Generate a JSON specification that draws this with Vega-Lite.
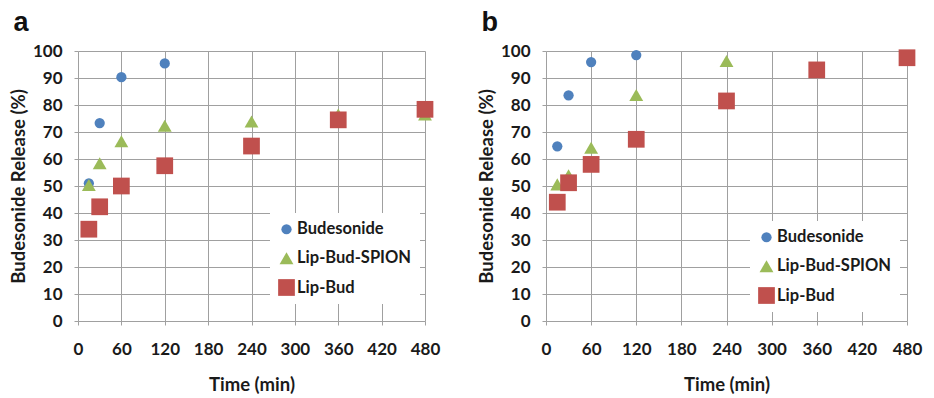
{
  "$schema": "https://vega.github.io/schema/vega-lite/v6.json",
  "background": "white",
  "padding": {"left": 9, "top": 9, "right": 5, "bottom": 5},
  "spacing": 37,
  "datasets": {
    "release": [
      {"panel": "a", "series": "Budesonide", "time": 15, "release": 51},
      {"panel": "a", "series": "Budesonide", "time": 30, "release": 73.3},
      {"panel": "a", "series": "Budesonide", "time": 60, "release": 90.3},
      {"panel": "a", "series": "Budesonide", "time": 120, "release": 95.4},
      {"panel": "a", "series": "Lip-Bud-SPION", "time": 15, "release": 50.4},
      {"panel": "a", "series": "Lip-Bud-SPION", "time": 30, "release": 58.4},
      {"panel": "a", "series": "Lip-Bud-SPION", "time": 60, "release": 66.6},
      {"panel": "a", "series": "Lip-Bud-SPION", "time": 120, "release": 72.3},
      {"panel": "a", "series": "Lip-Bud-SPION", "time": 240, "release": 73.9},
      {"panel": "a", "series": "Lip-Bud-SPION", "time": 360, "release": 76.5},
      {"panel": "a", "series": "Lip-Bud-SPION", "time": 480, "release": 76.5},
      {"panel": "a", "series": "Lip-Bud", "time": 15, "release": 34},
      {"panel": "a", "series": "Lip-Bud", "time": 30, "release": 42.3},
      {"panel": "a", "series": "Lip-Bud", "time": 60, "release": 50},
      {"panel": "a", "series": "Lip-Bud", "time": 120, "release": 57.5},
      {"panel": "a", "series": "Lip-Bud", "time": 240, "release": 64.8},
      {"panel": "a", "series": "Lip-Bud", "time": 360, "release": 74.5},
      {"panel": "a", "series": "Lip-Bud", "time": 480, "release": 78.4},
      {"panel": "b", "series": "Budesonide", "time": 15, "release": 64.7},
      {"panel": "b", "series": "Budesonide", "time": 30, "release": 83.6},
      {"panel": "b", "series": "Budesonide", "time": 60, "release": 95.9},
      {"panel": "b", "series": "Budesonide", "time": 120, "release": 98.5},
      {"panel": "b", "series": "Lip-Bud-SPION", "time": 15, "release": 50.6},
      {"panel": "b", "series": "Lip-Bud-SPION", "time": 30, "release": 54},
      {"panel": "b", "series": "Lip-Bud-SPION", "time": 60, "release": 64.2},
      {"panel": "b", "series": "Lip-Bud-SPION", "time": 120, "release": 83.7},
      {"panel": "b", "series": "Lip-Bud-SPION", "time": 240, "release": 96.3},
      {"panel": "b", "series": "Lip-Bud", "time": 15, "release": 44},
      {"panel": "b", "series": "Lip-Bud", "time": 30, "release": 51.2},
      {"panel": "b", "series": "Lip-Bud", "time": 60, "release": 58},
      {"panel": "b", "series": "Lip-Bud", "time": 120, "release": 67.3},
      {"panel": "b", "series": "Lip-Bud", "time": 240, "release": 81.5},
      {"panel": "b", "series": "Lip-Bud", "time": 360, "release": 93},
      {"panel": "b", "series": "Lip-Bud", "time": 480, "release": 97.5}
    ]
  },
  "hconcat": [
    {
      "width": 347,
      "height": 270,
      "title": {"text": "a", "anchor": "start", "frame": "bounds", "fontSize": 27, "font": "Liberation Sans", "fontWeight": "bold", "offset": 5, "dx": 4},
      "data": {"name": "release"},
      "transform": [{"filter": "datum.panel === 'a'"}],
      "mark": {"type": "point", "filled": true, "opacity": 1},
      "encoding": {
        "x": {"field": "time", "type": "quantitative", "title": "Time (min)",
              "scale": {"domain": [0, 480], "nice": false},
              "axis": {"values": [0, 60, 120, 180, 240, 300, 360, 420, 480]}},
        "y": {"field": "release", "type": "quantitative", "title": "Budesonide Release (%)",
              "scale": {"domain": [0, 100], "nice": false},
              "axis": {"values": [0, 10, 20, 30, 40, 50, 60, 70, 80, 90, 100]}},
        "color": {"field": "series", "type": "nominal",
                  "scale": {"domain": ["Budesonide", "Lip-Bud-SPION", "Lip-Bud"], "range": ["#4F81BD", "#9BBB59", "#C0504D"]},
                  "legend": {"title": null, "orient": "none", "legendX": 192, "legendY": 162}},
        "shape": {"field": "series", "type": "nominal",
                  "scale": {"domain": ["Budesonide", "Lip-Bud-SPION", "Lip-Bud"], "range": ["circle", "triangle-up", "square"]},
                  "legend": {"title": null, "orient": "none", "legendX": 192, "legendY": 162}},
        "size": {"field": "series", "type": "nominal",
                 "scale": {"domain": ["Budesonide", "Lip-Bud-SPION", "Lip-Bud"], "range": [105, 280, 165]},
                 "legend": null}
      }
    },
    {
      "width": 361,
      "height": 270,
      "title": {"text": "b", "anchor": "start", "frame": "bounds", "fontSize": 27, "font": "Liberation Sans", "fontWeight": "bold", "offset": 5, "dx": 4},
      "data": {"name": "release"},
      "transform": [{"filter": "datum.panel === 'b'"}],
      "mark": {"type": "point", "filled": true, "opacity": 1},
      "encoding": {
        "x": {"field": "time", "type": "quantitative", "title": "Time (min)",
              "scale": {"domain": [0, 480], "nice": false},
              "axis": {"values": [0, 60, 120, 180, 240, 300, 360, 420, 480]}},
        "y": {"field": "release", "type": "quantitative", "title": "Budesonide Release (%)",
              "scale": {"domain": [0, 100], "nice": false},
              "axis": {"values": [0, 10, 20, 30, 40, 50, 60, 70, 80, 90, 100]}},
        "color": {"field": "series", "type": "nominal",
                  "scale": {"domain": ["Budesonide", "Lip-Bud-SPION", "Lip-Bud"], "range": ["#4F81BD", "#9BBB59", "#C0504D"]},
                  "legend": {"title": null, "orient": "none", "legendX": 204, "legendY": 170}},
        "shape": {"field": "series", "type": "nominal",
                  "scale": {"domain": ["Budesonide", "Lip-Bud-SPION", "Lip-Bud"], "range": ["circle", "triangle-up", "square"]},
                  "legend": {"title": null, "orient": "none", "legendX": 204, "legendY": 170}},
        "size": {"field": "series", "type": "nominal",
                 "scale": {"domain": ["Budesonide", "Lip-Bud-SPION", "Lip-Bud"], "range": [105, 280, 165]},
                 "legend": null}
      }
    }
  ],
  "resolve": {
    "scale": {"x": "independent", "y": "independent", "color": "independent", "shape": "independent", "size": "independent"},
    "legend": {"color": "independent", "shape": "independent"}
  },
  "config": {
    "font": "Lato",
    "view": {"stroke": null},
    "axis": {
      "labelFont": "Lato",
      "labelFontWeight": "bold",
      "labelFontSize": 17,
      "labelColor": "#1a1a1a",
      "titleFont": "Lato",
      "titleFontWeight": "bold",
      "titleFontSize": 18.5,
      "titleColor": "#1a1a1a",
      "grid": true,
      "gridColor": "#a0a0a0",
      "gridOpacity": 1,
      "tickColor": "#a0a0a0",
      "tickSize": 4,
      "domain": false
    },
    "axisX": {"labelPadding": 16, "titlePadding": 18, "labelFlush": false},
    "axisY": {"labelPadding": 12, "titlePadding": 4, "labelFlush": false},
    "legend": {
      "labelFont": "Lato",
      "labelFontWeight": "bold",
      "labelFontSize": 16.5,
      "labelColor": "#1a1a1a",
      "symbolSize": 100,
      "rowPadding": 12,
      "labelOffset": 2,
      "fillColor": "white",
      "padding": 8,
      "symbolStrokeWidth": 0
    },
    "title": {"color": "#111111"}
  }
}
